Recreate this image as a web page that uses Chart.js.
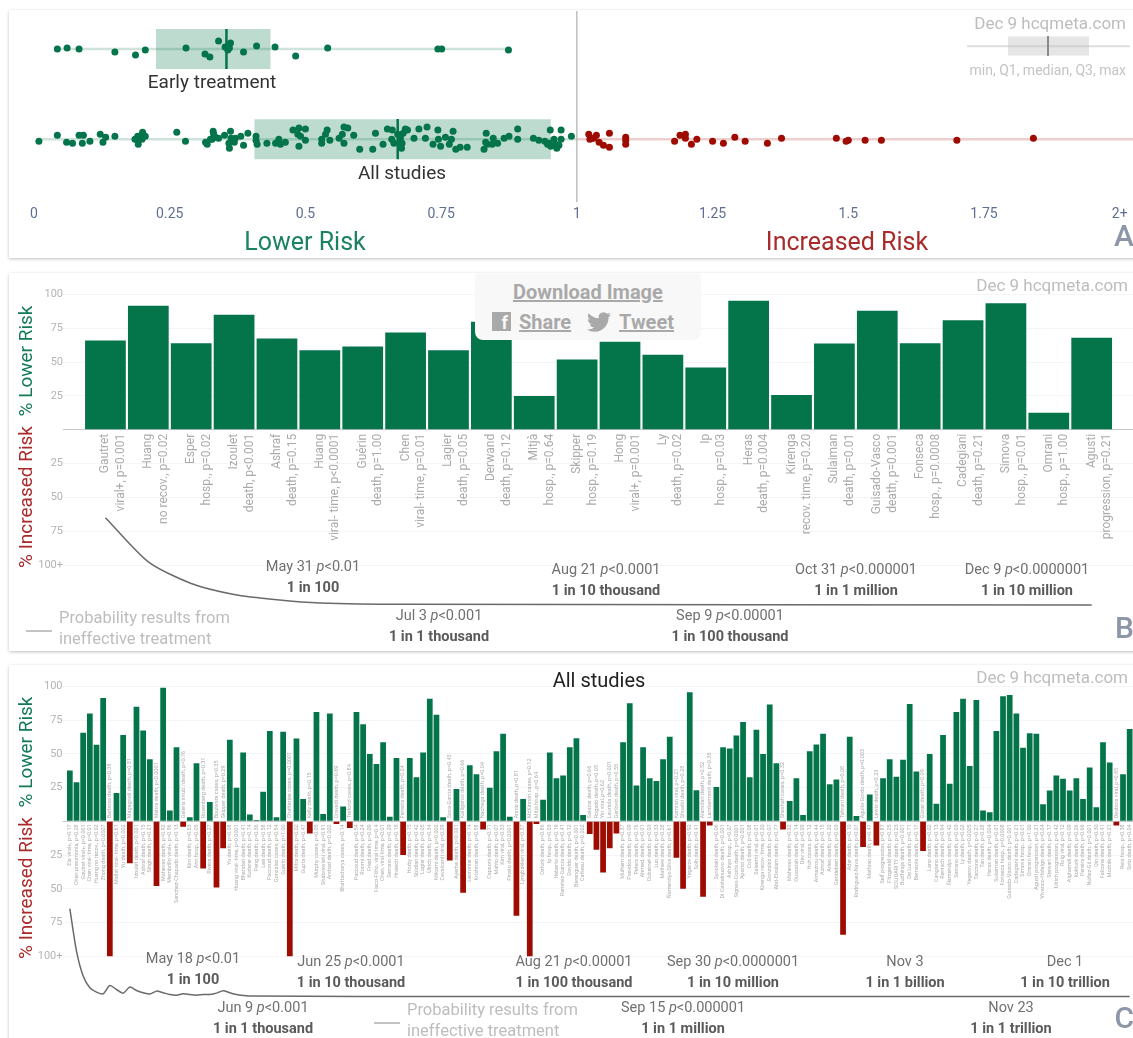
<!DOCTYPE html>
<html>
<head>
<meta charset="utf-8">
<title>HCQ meta analysis</title>
<script src="https://cdn.jsdelivr.net/npm/chart.js@4/dist/chart.umd.min.js"></script>
<style>
  html, body { margin: 0; padding: 0; background: #fff; }
  body { width: 1133px; height: 1038px; overflow: hidden; position: relative; font-family: Roboto, sans-serif; }
  .card { position: absolute; left: 9px; width: 1140px; background: #fff; box-shadow: 0 1px 3px rgba(0,0,0,.25); }
  canvas { position: absolute; left: 0; }
  .note { position: absolute; white-space: nowrap; line-height: 1; }
  .dl { position: absolute; left: 475px; top: 274px; width: 226px; height: 66px; background: #f8f8f8; border-radius: 0 0 8px 8px; }
  .dl span { position: absolute; font-weight: 700; font-size: 20px; color: #a9a9a9; text-decoration: underline; white-space: nowrap; }
</style>
</head>
<body>
<div class="card" style="top:10px;height:248px"></div>
<div class="card" style="top:273px;height:378px"></div>
<div class="card" style="top:665px;height:400px"></div>
<canvas id="riskChart" width="1140" height="220" style="top:7px"></canvas>
<canvas id="earlyChart" width="1156" height="349" style="top:270px"></canvas>
<canvas id="allChart" width="1133" height="350" style="top:660px"></canvas>
<div class="dl">
  <span style="left:38px;top:6px">Download Image</span>
  <div style="position:absolute;left:17px;top:38px;width:19px;height:19px;background:#a9a9a9;color:#f8f8f8;font:700 18px/21px Roboto;text-align:right;overflow:hidden"><span style="position:static;color:#f8f8f8;text-decoration:none;padding-right:3px;font-size:18px">f</span></div>
  <span style="left:44px;top:36px">Share</span>
  <svg viewBox="0 0 24 24" width="24" height="24" style="position:absolute;left:112px;top:36px"><path fill="#a9a9a9" d="M23.953 4.57a10 10 0 01-2.825.775 4.958 4.958 0 002.163-2.723c-.951.555-2.005.959-3.127 1.184a4.92 4.92 0 00-8.384 4.482C7.69 8.095 4.067 6.13 1.64 3.162a4.822 4.822 0 00-.666 2.475c0 1.71.87 3.213 2.188 4.096a4.904 4.904 0 01-2.228-.616v.06a4.923 4.923 0 003.946 4.827 4.996 4.996 0 01-2.212.085 4.936 4.936 0 004.604 3.417 9.867 9.867 0 01-6.102 2.105c-.39 0-.779-.023-1.17-.067a13.995 13.995 0 007.557 2.209c9.053 0 13.998-7.496 13.998-13.985 0-.21 0-.42-.015-.63A9.935 9.935 0 0024 4.59z"/></svg>
  <span style="left:144px;top:36px">Tweet</span>
</div>
<script>
// Panel A: risk ratio of each study, jitter is only the vertical spread of the dots
const earlyRisk = [.043,.061,.083,.149,.187,.205,.280,.315,.324,.340,.352,.357,.362,.360,.386,.410,.444,.482,.541,.744,.751,.874];
const earlyJitter = [0,1,0,-3,-6,-1,1,-5,-8,8,2,-1,6,1,-3,3,2,-7,1,0,0,-1];
const lowerRisk = [.009,.043,.060,.071,.083,.091,.089,.103,.122,.132,.127,.149,.191,.196,.200,.205,.192,.186,.199,.191,.263,.279,.316,.319,.330,.334,.325,
  .331,.340,.328,.351,.362,.363,.359,.369,.360,.371,.381,.386,.394,.409,.409,.411,.429,.445,.451,.454,.463,.477,.488,.500,.486,.491,.500,.488,
  .530,.530,.540,.537,.545,.562,.571,.578,.568,.571,.589,.600,.624,.629,.643,.651,.660,.659,.663,.670,.675,.680,.678,.677,.684,.688,.700,.709,.724,.721,
  .744,.745,.735,.749,.758,.772,.769,.765,.777,.785,.798,.833,.832,.846,.844,.854,.829,.835,.866,.875,.891,.891,.920,.930,.941,.951,.971,.949,.958,.971,.961,.967,.952,.963,.946,.990];
const lowerJitter = [-2,4,-3,-4,4,4,-4,-2,5,2,-3,3,-1,3,7,3,-5,0,0,3,7,-2,-3,-5,8,2,0,
  5,1,0,4,8,1,-4,-3,-9,1,3,-6,6,3,-1,-5,-4,-4,0,-5,-3,9,11,10,5,3,-1,-7,
  0,-4,9,5,-1,1,12,11,5,-4,4,-10,-10,6,-5,10,9,0,-4,5,1,6,-4,-9,10,9,1,10,12,1,
  9,0,-5,-7,2,8,0,-5,-10,-8,-8,6,-3,1,-5,-4,-10,-5,1,3,10,0,1,-1,-2,9,9,-4,0,0,-5,-6,-7,-9,-5,3];
const higherRisk = [1.022,1.024,1.031,1.036,1.041,1.049,1.060,1.060,1.090,1.090,1.090,1.180,1.190,1.200,1.200,1.211,1.221,1.250,1.270,1.291,1.310,1.351,1.377,1.478,1.496,1.500,1.531,1.561,1.700,1.841];
const higherJitter = [5,0,1,4,-3,-6,6,-8,2,-1,-5,-2,4,5,1,-5,0,-2,-4,2,-2,-4,1,1,-2,-1,-1,-1,-1,1];
const earlyBox = [.043,.2247,.3545,.4356,.874];
const allBox = [.009,.406,.670,.952];
const riskTicks = [0,.25,.5,.75,1,1.25,1.5,1.75,2];
const riskTickLabels = ['0','0.25','0.5','0.75','1','1.25','1.5','1.75','2+'];

// Panel B: early treatment studies
const earlyNames = ['Gautret','Huang','Esper','Izoulet','Ashraf','Huang','Guérin','Chen','Lagier','Derwand','Mitjà','Skipper','Hong','Ly','Ip','Heras','Kirenga','Sulaiman','Guisado-Vasco','Fonseca','Cadegiani','Simova','Omrani','Agusti'];
const earlyOutcomes = ['viral+, p=0.001','no recov., p=0.02','hosp., p=0.02','death, p<0.001','death, p=0.15','viral- time, p<0.0001','death, p=1.00','viral- time, p=0.01','death, p=0.05','death, p=0.12','hosp., p=0.64','hosp., p=0.19','viral+, p=0.001','death, p=0.02','hosp., p=0.03','death, p=0.004','recov. time, p=0.20','death, p=0.01','death, p=0.001','hosp., p=0.0008','death, p=0.21','hosp., p=0.01','hosp., p=1.00','progression, p=0.21'];
const earlyValues = [66,91.6,64,85,67.4,58.8,61.5,72,58.8,79.8,25,52,65,55.5,46,95.3,25.7,63.7,88,64,81,93.6,12.6,68];
const earlyCurveIdx = [0,1,2,3,4,5,7,23];
const earlyCurveVal = [-65,-97.6,-113.6,-121.7,-125.6,-128,-129,-129.5];
const yTicks = [100,75,50,25,0,-25,-50,-75,-100];

// Panel C: all studies
const allLabels = ['Ela viral+, p=0.17','Chen pneumonia, p=0.28','Gautret viral+, p=0.001','Chen viral- time, p=0.01','Huang no recov., p=0.02','Zhong death, p=0.0007','Barbosa death, p=0.38','Mallat viral- time, p=0.61','Yu death, p=0.002','Magagnoli death, p=0.31',
'Izoulet death, p<0.001','Ashraf death, p=0.15','Singh death, p=0.21','Mehra death, p<0.0001','Mahevas death, p=0.92','Membrillo viral+, p=0.56','Sanchez-Chapado death, p=0.13','Geleris intub./death, p=0.76','Kim death, p=0.53','Ahn hosp., p=0.05',
'Rosenberg death, p=0.31','Rivera death, p=0.27','Boulware cases, p=0.35','Skipper death, p=0.29','Yu death, p=0.08','Huang viral- time, p<0.0001','Bhandari death, p=0.41','Kuderer death, p=0.74','Peng death, p=0.36','Lee death, p=0.58',
'Paccoud death, p=0.12','Gonzalez cases, p=0.54','Guérin death, p=1.00','Chatterjee cases, p=0.0001','Mitra death, p=0.02','Gupta death, p=0.47','Kelly death, p=0.15','Murphy cases, p=0.05','Shabrawishi viral, p=0.91','Arshad death, p=0.002',
'Cravedi death, p=0.69','Bhattacharya cases, p=0.14','Trefond cases, p=0.84','Paccoud death, p=0.54','Roomi death, p=0.24','Fried death, p=0.09','Faíco-Filho, viral time, p=0.4','Chen, viral time, p=0.01','Serrano death, p=0.29','Hraiech death, p=0.15',
'Ferreira death, p=0.24','Horby death, p=0.15','Sbidian death, p=0.42','Lagier death, p=0.05','Ulrich death, p=0.34','Mikami death, p=0.002','Cavalcanti viral, p=0.29','Sosa-García death, p=0.45','Ayerbe death, p=0.001','Kalligeros death, p=0.66',
'Lecronier death, p=0.74','Krishnan death, p=0.58','Nachega death, p=0.04','Capsoni death, p=0.71','Mahto death, p=0.07','Kim viral, p=0.33','Pinato death, p=0.0001','Annie death, p=0.81','Lyngbakken viral, p=0.37','McKinnon cases, p=0.12',
'Mitjà hosp., p=0.64','Ozturk death, p=0.86','Ip hosp., p=0.03','Heberto death, p=0.19','Ramírez-García death, p=0.41','Davido death, p=0.12','Berenguer death, p=0.001','Catteau death, p=0.002','Salazar death, p=0.66','Rogado death, p=0.05',
'Yin viral, p=0.62','Lauriola death, p=0.001','Gerlovin death, p=0.55','Mulhem death, p=0.37','Psevdos death, p=0.09','Peters death, p=0.76','Ahmed, death, p=0.01','Dubernet death, p=0.03','Luo death, p=0.33','Mathew death, p=0.28',
'Ñamendys-Silva death, p=0.61','Kamran viral, p=0.21','Shoaibi death, p=0.28','Yegerov death, p=0.92','Solh death, p=0.41','Alamdari death, p=0.52','Lambermont death, p=0.35','Synolaki death, p=0.06','Di Castelnuovo death, p=0.001','Ashinyo hosp., p=0.07',
'Signes-Costa death, p=0.0001','Aparisi death, p=0.001','Coll death, p=0.08','Saleemi viral, p=0.01','Kirenga recov. time, p=0.20','Gonzalez death, p=0.07','Abd-Elsalam death, p=0.77','Sheshah cases, p=0.32','Mahevas death, p=0.32','Oussalah death, p=0.14',
'Dev viral, p=0.09','Huh cases, p=0.12','Almazrou death, p=0.44','Ashraf death, p=0.15','Arleo death, p=0.20','Gendebien death, p=0.03','Tehrani death, p=0.08','Ader death, p=0.10','Rodriguez-Nava death, p=0.07','Águila-Gordo death, p=0.003',
'Mathian death, p=0.47','Lewis death, p=0.23','Self progression, p=0.87','Fitzgerald death, p=0.25','SOLIDARITY death, p=0.23','Budhiraja death, p=0.001','De Luna death, p=0.71','Bernaola death, p=0.17','Güner death, p=0.09','Lano death, p=0.02',
'Cangiano death, p=0.13','Rentsch death, p=0.94','Ñamendys death, p=0.42','Serrano death, p=0.03','Ly death, p=0.02','Yegerov death, p=0.0005','Taccone death, p=0.27','Tan death, p=0.28','Heras death, p=0.004','Sulaiman death, p=0.01',
'Fonseca hosp., p=0.0008','Guisado-Vasco death, p=0.001','Cadegiani death, p=0.21','Simova hosp., p=0.01','Omrani hosp., p=1.00','Agusti progression, p=0.21','Vivanco-Hidalgo death, p=0.04','Stewart death, p=0.17','Ulrich progression, p=0.42','Roig viral, p=0.12',
'Alghamdi death, p=0.09','Kokturk death, p=0.26','Pereira death, p=0.66','Núñez-Gil death, p=0.001','Qin death, p=0.30','Falcone death, p=0.41','Modrák death, p=0.21','Desbois viral, p=0.85','Reis hosp., p=0.38','Soto death, p=0.04'];
const allValues = [37.7,29,65.7,80,56.8,91.5,-100,21,64,-31,85,67.4,46,-48,99,8,55,-4,3,43,-35,14.4,-49,-20,60.5,25,51,5,1,22,67,3,66.4,-100,61.5,16.6,-9,81,5.5,80,-2,11,-5,81,72,50,42.6,58.7,3.5,47,
  -25,47,32.7,51,91,79,3,-29,24,-53,41.6,35,-6,25,52,65,3.5,-70,16.6,-100,-2,16,51,32,34,55,61.7,4.7,-9.4,-21,-38,-20,-9,58.7,87.5,26.5,55,32,30,46,62.7,-27,-50,95.7,23,-56,-3,25.5,55,54,
  63.7,73.6,32.7,68,50,86.7,43,-6,15,32,4.7,52,57,65,27.5,31,-84,62.7,4,-19,20,-18,32,46,33,45.6,87,37,-22,50,13,64,27.8,81,91,41,90,8,6.7,67,92.7,93.7,80,54.5,65.4,65,12.6,22.8,34,31.5,22.8,32,16.6,40,10.4,58.7,43.6,-3,35,68.4];
const allCurveIdx = [0,1,2,3,4,5,6,7,8,9,10,11,12,13,14,15,16,17,18,19,20,21,22,23,24,25,26,27,60,100,159];
const allCurveVal = [-64.7,-96.2,-114.7,-123.4,-126.6,-127.9,-121.7,-124.7,-127.4,-122.9,-125.4,-127.1,-128.1,-125.9,-127.1,-128.4,-128.9,-127.9,-128.4,-128.9,-128.4,-128.4,-127.4,-125.6,-127.1,-128.4,-129.1,-129.6,-129.9,-129.9,-129.9];

const GREEN = '#04744b';
const RED = '#9e0b00';
Chart.defaults.font.family = 'Roboto';
Chart.defaults.animation = false;

function note(x, y, html, css, anchor) {
  const div = document.createElement('div');
  const shift = anchor === 'l' ? '0' : anchor === 'r' ? '-100%' : '-50%';
  div.className = 'note';
  div.innerHTML = html;
  div.style.cssText = `left:${x}px;top:${y}px;transform:translate(${shift},-50%);${css}`;
  document.body.appendChild(div);
  return div;
}

function sideTitles(x, yLower, yHigher) {
  note(x, yLower, '% Lower Risk', 'font-size:19px;color:#137a55;transform:translate(-50%,-50%) rotate(-90deg)');
  note(x, yHigher, '% Increased Risk', 'font-size:19px;color:#a92a2a;transform:translate(-50%,-50%) rotate(-90deg)');
}

function milestone(x, y, date, odds) {
  note(x, y, date, 'font-size:14.5px;color:#707070');
  note(x, y + 21, odds, 'font-size:14.5px;font-weight:700;color:#5a5a5a');
}

function curveData(labels, idx, val) {
  const out = labels.map(() => null);
  idx.forEach((k, j) => { out[k] = val[j]; });
  return out;
}

function yAxis(width, tickLength) {
  return {
    min: -135,
    max: 100,
    afterFit: s => { s.width = width; },
    afterBuildTicks: s => { s.ticks = yTicks.map(v => ({ value: v })); },
    border: { display: false },
    grid: {
      tickLength: tickLength,
      color: c => c.tick && c.tick.value === 0 ? '#c8c8c8' : '#f4f5fb',
      tickColor: c => c.tick && c.tick.value === 0 ? '#c8c8c8' : '#f4f5fb'
    },
    ticks: {
      autoSkip: false,
      padding: 0,
      color: '#b4b4b4',
      font: { size: 11 },
      callback: v => v === 0 ? '' : v === -100 ? '100+' : Math.abs(v)
    }
  };
}

// Panel A
function lineSet(points, color, width, order) {
  return { data: points, showLine: true, borderColor: color, borderWidth: width, pointRadius: 0, order: order };
}
function dotSet(xs, jitter, lane, color) {
  return { data: xs.map((v, i) => ({ x: v, y: lane + jitter[i] })), backgroundColor: color, borderWidth: 0, pointRadius: 3.5, order: 1 };
}
const EARLY_LANE = 90;
const ALL_LANE = 0;
new Chart(document.getElementById('riskChart'), {
  type: 'scatter',
  data: {
    datasets: [
      lineSet([{ x: earlyBox[1], y: EARLY_LANE }, { x: earlyBox[3], y: EARLY_LANE }], 'rgba(4,116,75,.26)', 40, 5),
      lineSet([{ x: allBox[1], y: ALL_LANE }, { x: allBox[3], y: ALL_LANE }], 'rgba(4,116,75,.26)', 40, 5),
      lineSet([{ x: earlyBox[0], y: EARLY_LANE }, { x: earlyBox[4], y: EARLY_LANE }], 'rgba(4,116,75,.2)', 2.5, 4),
      lineSet([{ x: allBox[0], y: ALL_LANE }, { x: 1, y: ALL_LANE }], 'rgba(4,116,75,.2)', 2.5, 4),
      lineSet([{ x: 1, y: ALL_LANE }, { x: 2.03, y: ALL_LANE }], 'rgba(158,11,0,.2)', 2.5, 4),
      lineSet([{ x: 1, y: -63 }, { x: 1, y: 128 }], '#bdbdbd', 1.5, 3),
      lineSet([{ x: earlyBox[2], y: EARLY_LANE - 20 }, { x: earlyBox[2], y: EARLY_LANE + 20 }], GREEN, 2.5, 2),
      lineSet([{ x: allBox[2], y: ALL_LANE - 20 }, { x: allBox[2], y: ALL_LANE + 20 }], GREEN, 2.5, 2),
      dotSet(earlyRisk, earlyJitter, EARLY_LANE, GREEN),
      dotSet(lowerRisk, lowerJitter, ALL_LANE, GREEN),
      dotSet(higherRisk, higherJitter, ALL_LANE, RED)
    ]
  },
  options: {
    responsive: false,
    layout: { padding: { left: 34 } },
    plugins: { legend: { display: false }, tooltip: { enabled: false } },
    scales: {
      x: {
        type: 'linear', min: 0, max: 2.03,
        afterBuildTicks: s => { s.ticks = riskTicks.map(v => ({ value: v })); },
        grid: { display: false, drawTicks: false }, border: { display: false },
        ticks: { autoSkip: false, maxRotation: 0, padding: 4, color: '#5f6f92', font: { size: 14 },
          callback: (v, i) => riskTickLabels[i] }
      },
      y: { display: false, min: -63, max: 128 }
    }
  }
});

// Panel B
const earlyBarLabels = earlyNames.map((n, i) => [n, earlyOutcomes[i]]).concat(['']);
new Chart(document.getElementById('earlyChart'), {
  type: 'bar',
  data: {
    labels: earlyBarLabels,
    datasets: [
      { type: 'line', data: curveData(earlyBarLabels, earlyCurveIdx, earlyCurveVal), spanGaps: true, tension: 0.25, borderColor: '#6a6a6a', borderWidth: 1.5, pointRadius: 0, order: 0 },
      { data: earlyValues, backgroundColor: GREEN, categoryPercentage: 1, barPercentage: 0.95, order: 1 }
    ]
  },
  options: {
    responsive: false,
    layout: { padding: { top: 24.5 } },
    plugins: { legend: { display: false }, tooltip: { enabled: false } },
    scales: {
      x: {
        position: { y: 0 },
        grid: { display: false, drawTicks: false }, border: { display: false },
        ticks: { autoSkip: false, minRotation: 90, maxRotation: 90, padding: 4, color: '#ababab', font: { size: 12, lineHeight: 1.3 } }
      },
      y: yAxis(84, 21)
    }
  }
});

// Panel C: labels sit under green bars and over red bars
const studyLabelsPlugin = {
  id: 'studyLabels',
  afterDatasetsDraw(chart) {
    const { ctx, scales: { x, y } } = chart;
    const zero = y.getPixelForValue(0);
    ctx.save();
    ctx.font = '5.5px Roboto';
    ctx.fillStyle = '#ababab';
    ctx.textBaseline = 'middle';
    allLabels.forEach((label, i) => {
      const up = allValues[i] < 0;
      ctx.save();
      ctx.translate(x.getPixelForValue(i), zero + (up ? -3 : 3));
      ctx.rotate(-Math.PI / 2);
      ctx.textAlign = up ? 'left' : 'right';
      ctx.fillText(label, 0, 0);
      ctx.restore();
    });
    ctx.restore();
  }
};
new Chart(document.getElementById('allChart'), {
  type: 'bar',
  data: {
    labels: allLabels,
    datasets: [
      { type: 'line', data: curveData(allLabels, allCurveIdx, allCurveVal), spanGaps: true, tension: 0.25, borderColor: '#6a6a6a', borderWidth: 1.5, pointRadius: 0, order: 0 },
      { data: allValues, backgroundColor: c => c.raw < 0 ? RED : GREEN, categoryPercentage: 1, barPercentage: 0.86, order: 1 }
    ]
  },
  options: {
    responsive: false,
    layout: { padding: { top: 26.5 } },
    plugins: { legend: { display: false }, tooltip: { enabled: false } },
    scales: {
      x: { display: false },
      y: yAxis(66.5, 4)
    }
  },
  plugins: [studyLabelsPlugin]
});

// Texts panel A
const WATERMARK = 'font-size:17px;color:#bdbdbd';
const FOOTNOTE = 'font-size:16.5px;color:#bdbdbd';
note(1126, 23, 'Dec 9 hcqmeta.com', WATERMARK, 'r');
note(967, 46, '', 'width:163px;height:1.5px;background:#dedede', 'l');
note(1008, 46, '', 'width:81px;height:19px;background:rgba(190,190,190,.4)', 'l');
note(1047, 46, '', 'width:2px;height:20px;background:#8a8a8a', 'l');
note(1126, 70, 'min, Q1, median, Q3, max', 'font-size:14px;color:#c4c4c4', 'r');
note(212, 81, 'Early treatment', 'font-size:19px;color:#333');
note(402, 172, 'All studies', 'font-size:19px;color:#333');
note(305, 241, 'Lower Risk', 'font-size:25px;color:#1a8360');
note(847, 241, 'Increased Risk', 'font-size:25px;color:#a92a2a');
const PANEL_TAG = 'font-size:30px;font-weight:500;color:#8d96a8';
note(1134, 236, 'A', PANEL_TAG, 'r');

// Texts panel B
note(1128, 285, 'Dec 9 hcqmeta.com', WATERMARK, 'r');
sideTitles(25, 361, 496.5);
milestone(313, 567, 'May 31 <i>p</i>&lt;0.01', '1 in 100');
milestone(439, 616, 'Jul 3 <i>p</i>&lt;0.001', '1 in 1 thousand');
milestone(606, 570, 'Aug 21 <i>p</i>&lt;0.0001', '1 in 10 thousand');
milestone(730, 616, 'Sep 9 <i>p</i>&lt;0.00001', '1 in 100 thousand');
milestone(856, 570, 'Oct 31 <i>p</i>&lt;0.000001', '1 in 1 million');
milestone(1027, 570, 'Dec 9 <i>p</i>&lt;0.0000001', '1 in 10 million');
note(26, 631, '', 'width:26px;height:2px;background:#c4c4c4', 'l');
note(59, 618, 'Probability results from', FOOTNOTE, 'l');
note(59, 639, 'ineffective treatment', FOOTNOTE, 'l');
note(1134, 628, 'B', PANEL_TAG, 'r');

// Texts panel C
note(599, 680, 'All studies', 'font-size:20px;color:#222');
note(1128, 677, 'Dec 9 hcqmeta.com', WATERMARK, 'r');
sideTitles(25, 752, 888);
milestone(193, 959, 'May 18 <i>p</i>&lt;0.01', '1 in 100');
milestone(263, 1008, 'Jun 9 <i>p</i>&lt;0.001', '1 in 1 thousand');
milestone(351, 962, 'Jun 25 <i>p</i>&lt;0.0001', '1 in 10 thousand');
milestone(574, 962, 'Aug 21 <i>p</i>&lt;0.00001', '1 in 100 thousand');
milestone(683, 1008, 'Sep 15 <i>p</i>&lt;0.000001', '1 in 1 million');
milestone(733, 962, 'Sep 30 <i>p</i>&lt;0.0000001', '1 in 10 million');
milestone(905, 962, 'Nov 3', '1 in 1 billion');
milestone(1011, 1008, 'Nov 23', '1 in 1 trillion');
milestone(1065, 962, 'Dec 1', '1 in 10 trillion');
note(374, 1023, '', 'width:26px;height:2px;background:#c4c4c4', 'l');
note(407, 1010, 'Probability results from', FOOTNOTE, 'l');
note(407, 1031, 'ineffective treatment', FOOTNOTE, 'l');
note(1134, 1018, 'C', PANEL_TAG, 'r');
</script>
</body>
</html>
